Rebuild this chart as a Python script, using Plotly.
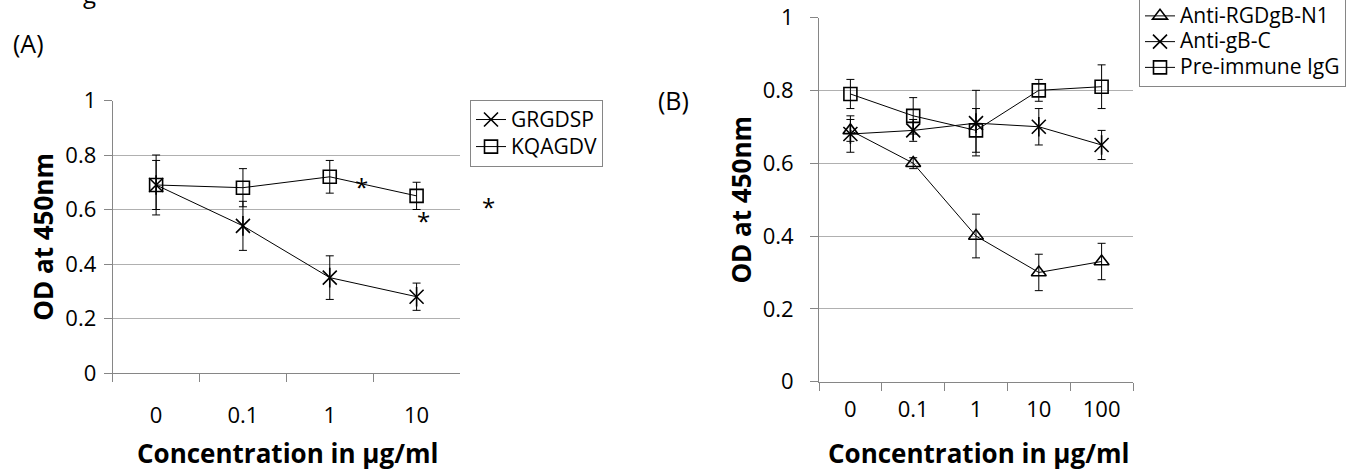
import plotly.graph_objects as go

# ---------------- data ----------------
conc_a = ["0", "0.1", "1", "10"]
grgdsp = [0.69, 0.54, 0.35, 0.28]
grgdsp_err = [0.11, 0.09, 0.08, 0.05]
kqagdv = [0.69, 0.68, 0.72, 0.65]
kqagdv_err = [0.09, 0.07, 0.06, 0.05]

conc_b = ["0", "0.1", "1", "10", "100"]
anti_rgd = [0.69, 0.60, 0.40, 0.30, 0.33]
anti_rgd_err = [0.03, 0.015, 0.06, 0.05, 0.05]
anti_gbc = [0.68, 0.69, 0.71, 0.70, 0.65]
anti_gbc_err = [0.05, 0.03, 0.09, 0.05, 0.04]
preimm = [0.79, 0.73, 0.69, 0.80, 0.81]
preimm_err = [0.04, 0.05, 0.06, 0.03, 0.06]

W, H = 1346, 474
FONT = "Open Sans"
AX = "#868686"
GRID = "#b0b0b0"


def px(x):
    return x / W


def py(y):
    return 1 - y / H


def err(a):
    return dict(type="data", array=a, color="black", thickness=1, width=4)


def mk(symbol, size):
    return dict(symbol=symbol, size=size, color="black", line=dict(color="black", width=1.6))


def lname(s, size):
    return "<span style='font-size:%dpx'>%s</span>" % (size, s)


fig = go.Figure()

# ---- panel A ----
fig.add_trace(go.Scatter(
    x=conc_a, y=grgdsp, name=lname("GRGDSP", 21), mode="lines+markers", xaxis="x", yaxis="y",
    line=dict(color="black", width=1), error_y=err(grgdsp_err),
    marker=mk("x-thin-open", 14), legend="legend"))
fig.add_trace(go.Scatter(
    x=conc_a, y=grgdsp, mode="markers", xaxis="x", yaxis="y", showlegend=False,
    marker=mk("line-ns-open", 14), hoverinfo="skip"))
fig.add_trace(go.Scatter(
    x=conc_a, y=kqagdv, name=lname("KQAGDV", 21), mode="lines+markers", xaxis="x", yaxis="y",
    line=dict(color="black", width=1), error_y=err(kqagdv_err),
    marker=mk("square-open", 13), legend="legend"))

# ---- panel B ----
fig.add_trace(go.Scatter(
    x=conc_b, y=anti_rgd, name=lname("Anti-RGDgB-N1", 21), mode="lines+markers",
    xaxis="x2", yaxis="y2",
    line=dict(color="black", width=1), error_y=err(anti_rgd_err),
    marker=mk("triangle-up-open", 13), legend="legend2"))
fig.add_trace(go.Scatter(
    x=conc_b, y=anti_gbc, name=lname("Anti-gB-C", 21), mode="lines+markers",
    xaxis="x2", yaxis="y2",
    line=dict(color="black", width=1), error_y=err(anti_gbc_err),
    marker=mk("x-thin-open", 14), legend="legend2"))
fig.add_trace(go.Scatter(
    x=conc_b, y=anti_gbc, mode="markers", xaxis="x2", yaxis="y2", showlegend=False,
    marker=mk("line-ns-open", 14), hoverinfo="skip"))
fig.add_trace(go.Scatter(
    x=conc_b, y=preimm, name=lname("Pre-immune IgG", 21), mode="lines+markers",
    xaxis="x2", yaxis="y2",
    line=dict(color="black", width=1), error_y=err(preimm_err),
    marker=mk("square-open", 13), legend="legend2"))

tickfont = dict(family=FONT, size=22, color="black")


def xax(domain, n, standoff):
    return dict(domain=domain, type="category", range=[-0.5, n - 0.5],
                showline=True, linecolor=AX, linewidth=1, ticks="outside",
                tickson="boundaries", ticklen=8, tickcolor=AX, showgrid=False,
                zeroline=False, tickfont=tickfont, ticklabelstandoff=standoff,
                fixedrange=True, automargin=False)


def yax(domain, anchor, standoff):
    return dict(domain=domain, anchor=anchor, range=[0, 1], dtick=0.2, tick0=0,
                showline=True, linecolor=AX, linewidth=1, ticks="outside", ticklen=8,
                tickcolor=AX, showgrid=True, gridcolor=GRID, gridwidth=1, zeroline=False,
                tickfont=tickfont, ticklabelstandoff=standoff, fixedrange=True,
                automargin=False)


legend_style = dict(bgcolor="white", bordercolor=AX, borderwidth=1,
                    xanchor="left", yanchor="top", traceorder="normal")

fig.update_layout(
    width=W, height=H,
    margin=dict(l=0, r=0, t=0, b=0, pad=0, autoexpand=False),
    paper_bgcolor="white", plot_bgcolor="white",
    font=dict(family=FONT, color="black"),
    xaxis=dict(**xax([px(112.7), px(460)], len(conc_a), 23), anchor="y"),
    yaxis=yax([py(373), py(100.5)], "x", 3),
    xaxis2=dict(**xax([px(819), px(1133)], len(conc_b), 8), anchor="y2"),
    yaxis2=yax([py(381.7), py(17.5)], "x2", 12),
    legend=dict(**legend_style, x=px(470), y=py(100),
                font=dict(family=FONT, size=18.5, color="black")),
    legend2=dict(**legend_style, x=px(1139), y=py(-3),
                 font=dict(family=FONT, size=17.5, color="black")),
)

ann = []
title_font = dict(family=FONT, size=26, color="black")
ann.append(dict(text="<b>OD at 450nm</b>", x=px(43), y=py(236.7), xref="paper", yref="paper",
                textangle=-90, showarrow=False, font=title_font, xanchor="center", yanchor="middle"))
ann.append(dict(text="<b>OD at 450nm</b>", x=px(741), y=py(199.6), xref="paper", yref="paper",
                textangle=-90, showarrow=False, font=title_font, xanchor="center", yanchor="middle"))
ann.append(dict(text="<b>Concentration in µg/ml</b>", x=px(287), y=py(453), xref="paper", yref="paper",
                showarrow=False, font=title_font, xanchor="center", yanchor="middle"))
ann.append(dict(text="<b>Concentration in µg/ml</b>", x=px(978), y=py(453), xref="paper", yref="paper",
                showarrow=False, font=title_font, xanchor="center", yanchor="middle"))
lab_font = dict(family=FONT, size=25, color="black")
ann.append(dict(text="(A)", x=px(11), y=py(43), xref="paper", yref="paper",
                showarrow=False, font=lab_font, xanchor="left", yanchor="middle"))
ann.append(dict(text="(B)", x=px(656), y=py(100), xref="paper", yref="paper",
                showarrow=False, font=lab_font, xanchor="left", yanchor="middle"))
# clipped descender of a caption line above the figure
ann.append(dict(text="g", x=px(89), y=py(-7), xref="paper", yref="paper",
                showarrow=False, font=dict(family=FONT, size=24, color="black"),
                xanchor="center", yanchor="middle"))
for (ax_, ay_) in [(361, 183), (423, 218), (488, 203)]:
    ann.append(dict(text="*", x=px(ax_), y=py(ay_ + 3), xref="paper", yref="paper",
                    showarrow=False, font=dict(family=FONT, size=24, color="black"),
                    xanchor="center", yanchor="middle"))
fig.update_layout(annotations=ann)

fig.write_html("out.html")
